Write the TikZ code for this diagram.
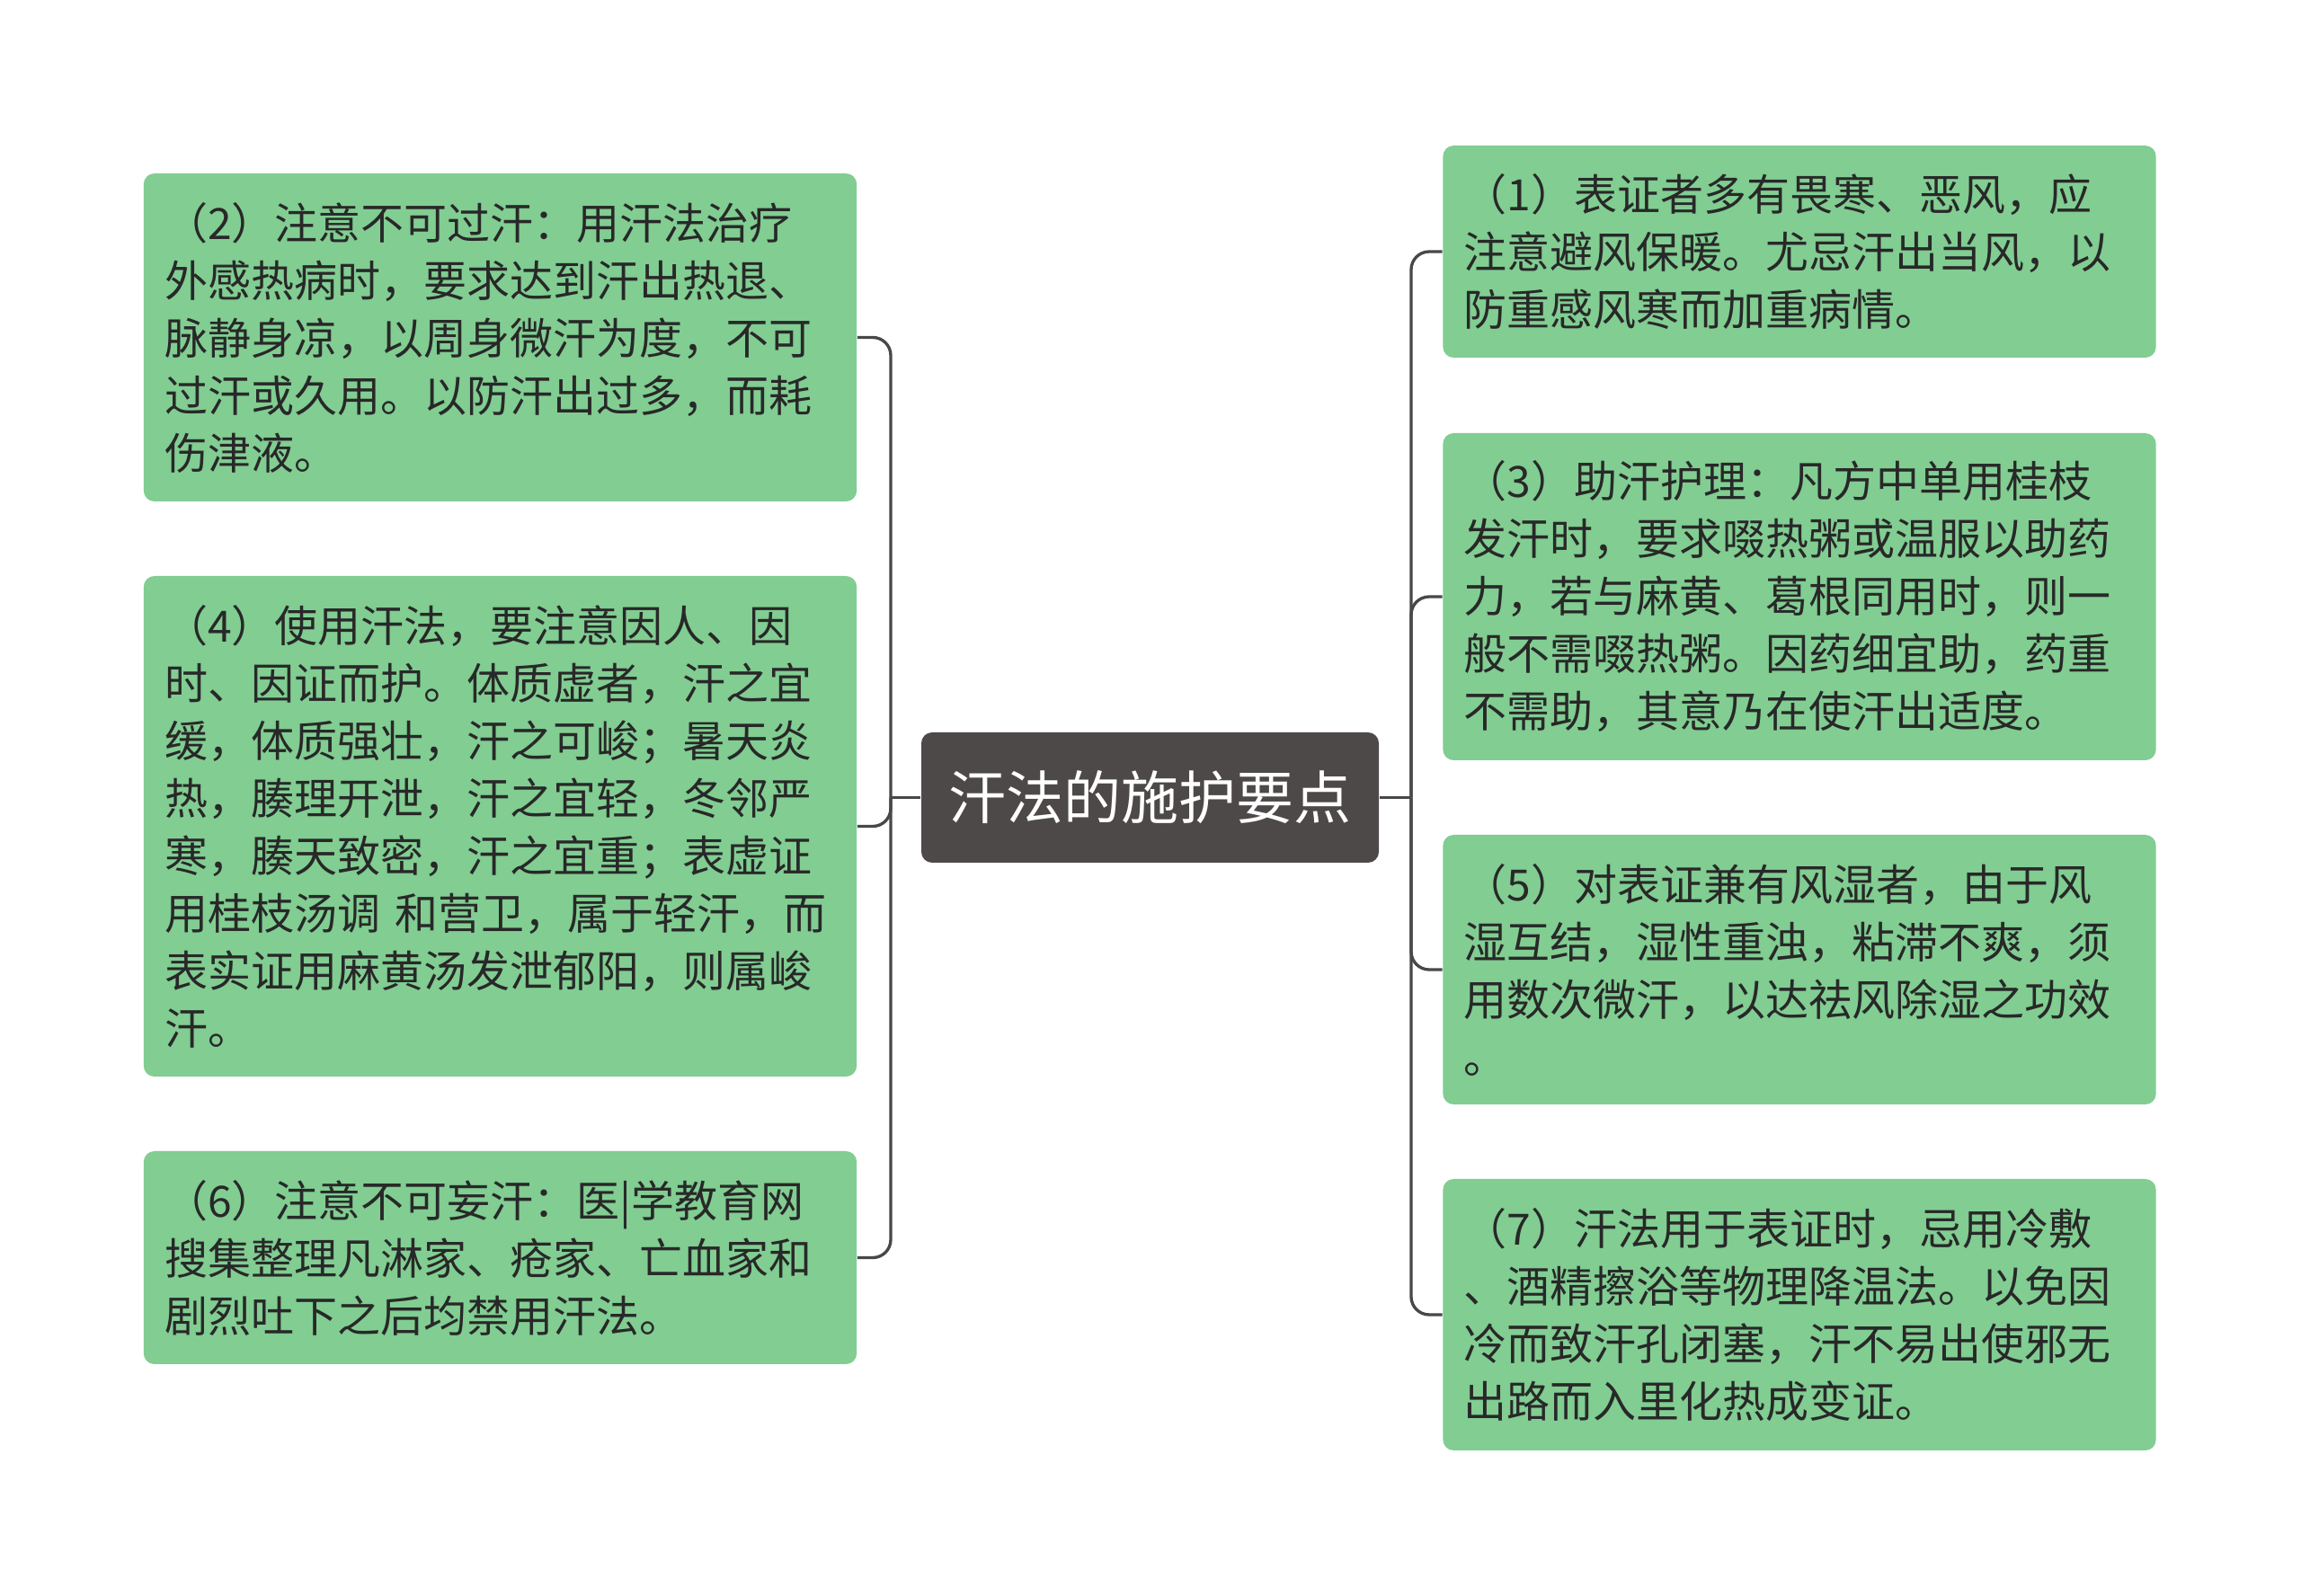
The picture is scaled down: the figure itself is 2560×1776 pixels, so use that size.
\documentclass[tikz,border=0pt]{standalone}
\usepackage{fontspec}
\newfontfamily\cjk{Noto Sans CJK SC}
\definecolor{boxgreen}{RGB}{129,205,146}
\definecolor{txtdark}{RGB}{40,40,40}
\definecolor{rootfill}{RGB}{78,73,73}
\definecolor{linecol}{RGB}{72,72,72}
\tikzset{
  leaf/.style={rectangle, rounded corners=3.6pt, fill=boxgreen, text=txtdark,
    font=\cjk\fontsize{14.4}{19.2}\selectfont, align=left,
    text width=224pt, inner xsep=7pt, inner ysep=0pt},
  rootbox/.style={rectangle, rounded corners=3.6pt, fill=rootfill, text=white,
    font=\cjk\fontsize{19.2}{23}\selectfont, minimum width=152.7pt,
    minimum height=43.5pt, inner sep=0pt},
  conn/.style={draw=linecol, line width=1pt, rounded corners=6pt}
}
\begin{document}
\begin{tikzpicture}[x=0.3pt,y=-0.3pt]
\useasboundingbox[fill=white] (0,0) rectangle (2560,1776);

\node[rootbox] (c) at (1279.5,887.5) {汗法的施护要点};

\node[leaf, minimum height=109.5pt] (b2) at (556.5,375.5) {（2）注意不可过汗：用汗法治疗\\外感热病时，要求达到汗出热退、\\脉静身凉，以周身微汗为度，不可\\过汗或久用。以防汗出过多，而耗\\伤津液。};
\node[leaf, minimum height=167.1pt] (b4) at (556.5,919.5) {（4）使用汗法，要注意因人、因\\时、因证而护。体质虚者，汗之宜\\缓，体质强壮，汗之可峻；暑天炎\\热，腠理开泄，汗之宜轻，冬邻严\\寒，腠天致密，汗之宜重；表虚证\\用桂枝汤调 和营卫，属于轻汗，而\\表实证用麻黄汤发泄郁阳，则属峻\\汗。};
\node[leaf, minimum height=71.1pt] (b6) at (556.5,1399.5) {（6）注意不可妄汗：医|学教育网\\搜集整理凡淋家、疮家、亡血家和\\剧烈吐下之后均禁用汗法。};

\node[leaf, minimum height=70.8pt] (b1) at (2002,280) {（1）表证者多有畏寒、恶风，应\\注意避风保暖。尤忌汗出当风，以\\防重感风寒而加重病情。};
\node[leaf, minimum height=109.2pt] (b3) at (2002,664) {（3）助汗护理：凡方中单用桂枝\\发汗时，要求啜热粥或温服以助药\\力，若与麻黄、葛根同用时，则一\\般不需啜热粥。因药细宜助，药重\\不需助，其意乃在使汗出适度。};
\node[leaf, minimum height=90pt] (b5) at (2002,1079) {（5）对表证兼有风湿者，由于风\\湿互结，湿性重浊，粘滞不爽，须\\用数次微汗，以达祛风除湿之功效\\。};
\node[leaf, minimum height=90.6pt] (b7) at (2002,1463) {（7）汗法用于表证时，忌用冷敷\\、酒精擦浴等物理降温法。以免因\\冷而致汗孔闭塞，汗不易出使邪无\\出路而入里化热成变证。};

\coordinate (jl) at (991,887.5);
\coordinate (jr) at (1570,887.5);

\draw[conn] (c.west) -- (jl);
\draw[conn] (jl) |- (b2.east);
\draw[conn] (jl) |- (b4.east);
\draw[conn] (jl) |- (b6.east);

\draw[conn] (c.east) -- (jr);
\draw[conn] (jr) |- (b1.west);
\draw[conn] (jr) |- (b3.west);
\draw[conn] (jr) |- (b5.west);
\draw[conn] (jr) |- (b7.west);
\end{tikzpicture}
\end{document}
